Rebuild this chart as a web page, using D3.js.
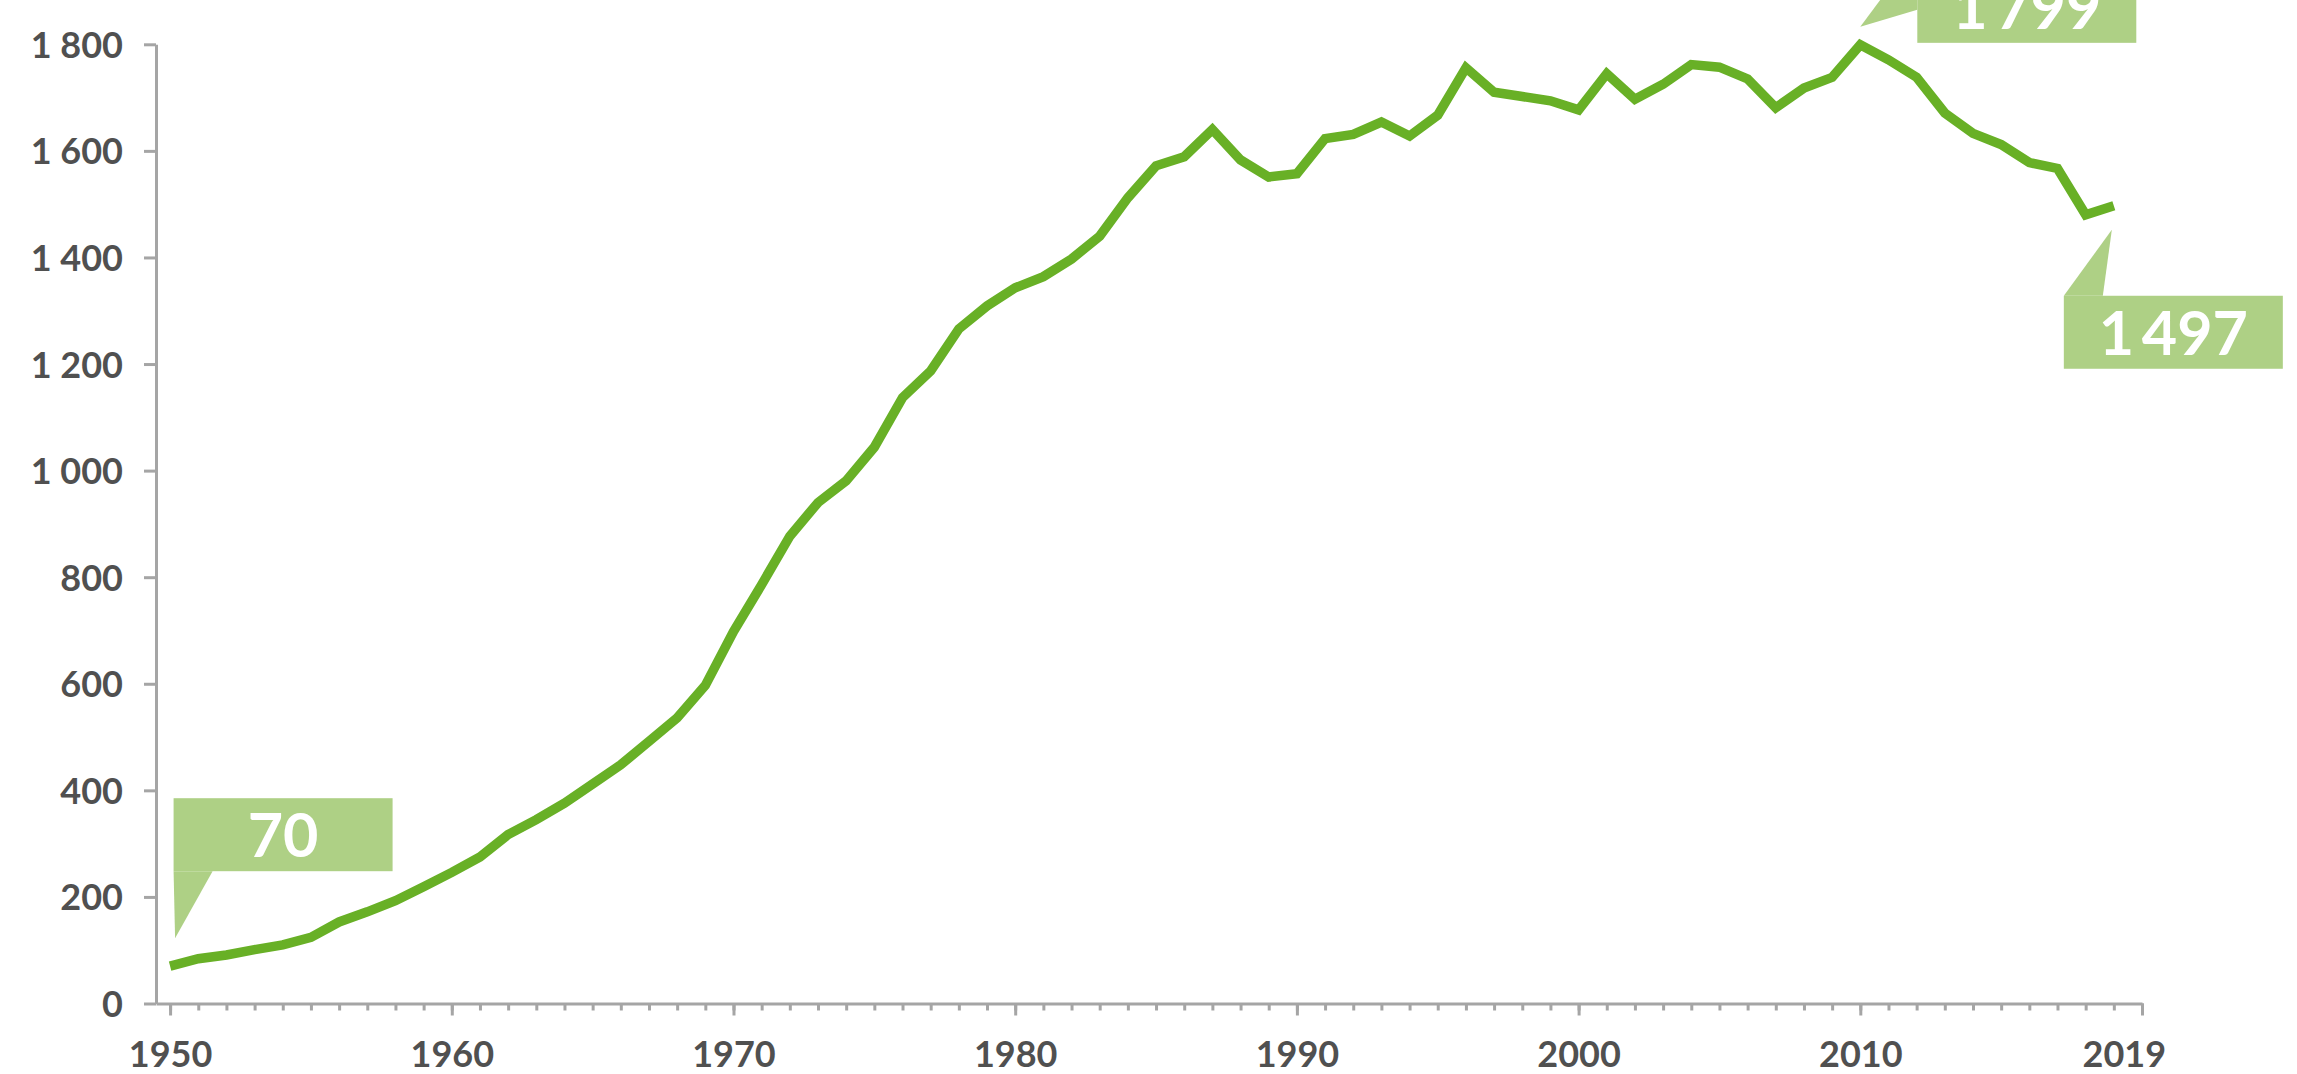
<!DOCTYPE html>
<html>
<head>
<meta charset="utf-8">
<script src="https://cdn.jsdelivr.net/npm/d3@7"></script>
<style>
    body { margin: 0; background: #fff; }
    svg { display: block; }
    .axis text { font-family: Lato, "Open Sans", sans-serif; font-weight: 700; font-size: 36px; fill: #505050; }
    .axis path, .axis line { stroke: #a5a5a5; stroke-width: 3; }
    .callout text { font-family: Lato, "Open Sans", sans-serif; font-weight: 700; font-size: 61px; fill: #fff; }
</style>
</head>
<body>
<script>
var WIDTH = 2297,
    HEIGHT = 1074;

var years = d3.range(1950, 2020);

var values = [
    70, 84, 91, 101, 110, 124, 153, 172, 193, 219,
    246, 275, 317, 345, 376, 412, 448, 492, 536, 597,
    698, 786, 877, 940, 981, 1044, 1137, 1187, 1266, 1309,
    1343, 1364, 1397, 1440, 1512, 1572, 1589, 1640, 1583, 1551,
    1557, 1623, 1631, 1654, 1628, 1667, 1756, 1710, 1702, 1694,
    1677, 1745, 1697, 1725, 1762, 1757, 1735, 1681, 1718, 1738,
    1799, 1771, 1738, 1671, 1633, 1612, 1578, 1567, 1480, 1497
];

var yTicks = [0, 200, 400, 600, 800, 1000, 1200, 1400, 1600, 1800];
var xLabelYears = [1950, 1960, 1970, 1980, 1990, 2000, 2010, 2019];
var xMajorTicks = [1950, 1960, 1970, 1980, 1990, 2000, 2010, 2020];

// years that get a value bubble
var calloutYears = [1950, 2010, 2019];

var svg = d3.select("body")
    .append("svg")
    .attr("width", WIDTH)
    .attr("height", HEIGHT);

var x = d3.scaleLinear()
    .domain([1949.5, 2020])
    .range([156, 2142]);

var y = d3.scaleLinear()
    .domain([0, 1800])
    .range([1003.5, 44.3]);

var spaced = function(v) {
    return d3.format(",")(v).replace(/,/g, " ");
};

// y axis
svg.append("g")
    .attr("class", "axis")
    .attr("transform", "translate(" + x.range()[0] + ",0)")
    .call(d3.axisLeft(y)
        .tickValues(yTicks)
        .tickSize(12)
        .tickSizeOuter(0)
        .tickPadding(21)
        .tickFormat(spaced))
    .selectAll("text")
    .attr("dy", "0.36em");

// x axis: one tick per year, longer ones every decade
svg.append("g")
    .attr("class", "axis")
    .attr("transform", "translate(0," + y(0) + ")")
    .call(d3.axisBottom(x)
        .tickValues(d3.range(1950, 2021))
        .tickSize(7)
        .tickSizeOuter(0)
        .tickFormat(""));

svg.append("g")
    .attr("class", "axis")
    .attr("transform", "translate(0," + y(0) + ")")
    .call(d3.axisBottom(x)
        .tickValues(xMajorTicks)
        .tickSize(12)
        .tickSizeOuter(0)
        .tickFormat(""))
    .select(".domain").remove();

var xLabels = svg.append("g")
    .attr("class", "axis")
    .attr("transform", "translate(0," + y(0) + ")")
    .call(d3.axisBottom(x)
        .tickValues(xLabelYears)
        .tickSize(0)
        .tickFormat(d3.format("d")));
xLabels.select(".domain").remove();
xLabels.selectAll("text")
    .attr("y", 63.5)
    .attr("dy", 0)
    .attr("dx", function(d) { return d === 2019 ? 10 : 0; });

// the line
var line = d3.line()
    .x(function(d, i) { return x(years[i]); })
    .y(function(d) { return y(d); });

svg.append("path")
    .datum(values)
    .attr("fill", "none")
    .attr("stroke", "#68b026")
    .attr("stroke-width", 9.5)
    .attr("stroke-linejoin", "miter")
    .attr("d", line);

// value bubbles: box plus a pointer towards the point
function calloutShape(year, px, py) {
    var w = 219, h = 73, box, tip, pointer;
    if (year === 1950) {
        box = [px + 3.5, py - 168];
        tip = [px + 5, py - 28];
        pointer = [[box[0], box[1] + h], tip, [box[0] + 39, box[1] + h]];
    } else if (year === 2010) {
        box = [px + 57, py - 75];
        tip = [px, py - 18];
        pointer = [[box[0], py - 35], tip, [box[0], py - 95]];
    } else {
        box = [px - 50, py + 90];
        tip = [px - 2, py + 24];
        pointer = [[box[0], box[1]], tip, [box[0] + 39, box[1]]];
    }
    return {box: box, w: w, h: h, pointer: pointer};
}

var callouts = svg.selectAll(".callout")
    .data(calloutYears)
    .enter()
    .append("g")
    .attr("class", "callout")
    .each(function(yr) {
        var v = values[years.indexOf(yr)],
            s = calloutShape(yr, x(yr), y(v)),
            g = d3.select(this);
        g.append("rect")
            .attr("x", s.box[0])
            .attr("y", s.box[1])
            .attr("width", s.w)
            .attr("height", s.h)
            .attr("fill", "#aed085");
        g.append("path")
            .attr("d", "M" + s.pointer.join("L") + "Z")
            .attr("fill", "#aed085");
        g.append("text")
            .attr("x", s.box[0] + s.w / 2)
            .attr("y", s.box[1] + 59)
            .attr("text-anchor", "middle")
            .text(d3.format(",")(v).replace(/,/g, "\u2009"));
    });
</script>
</body>
</html>
